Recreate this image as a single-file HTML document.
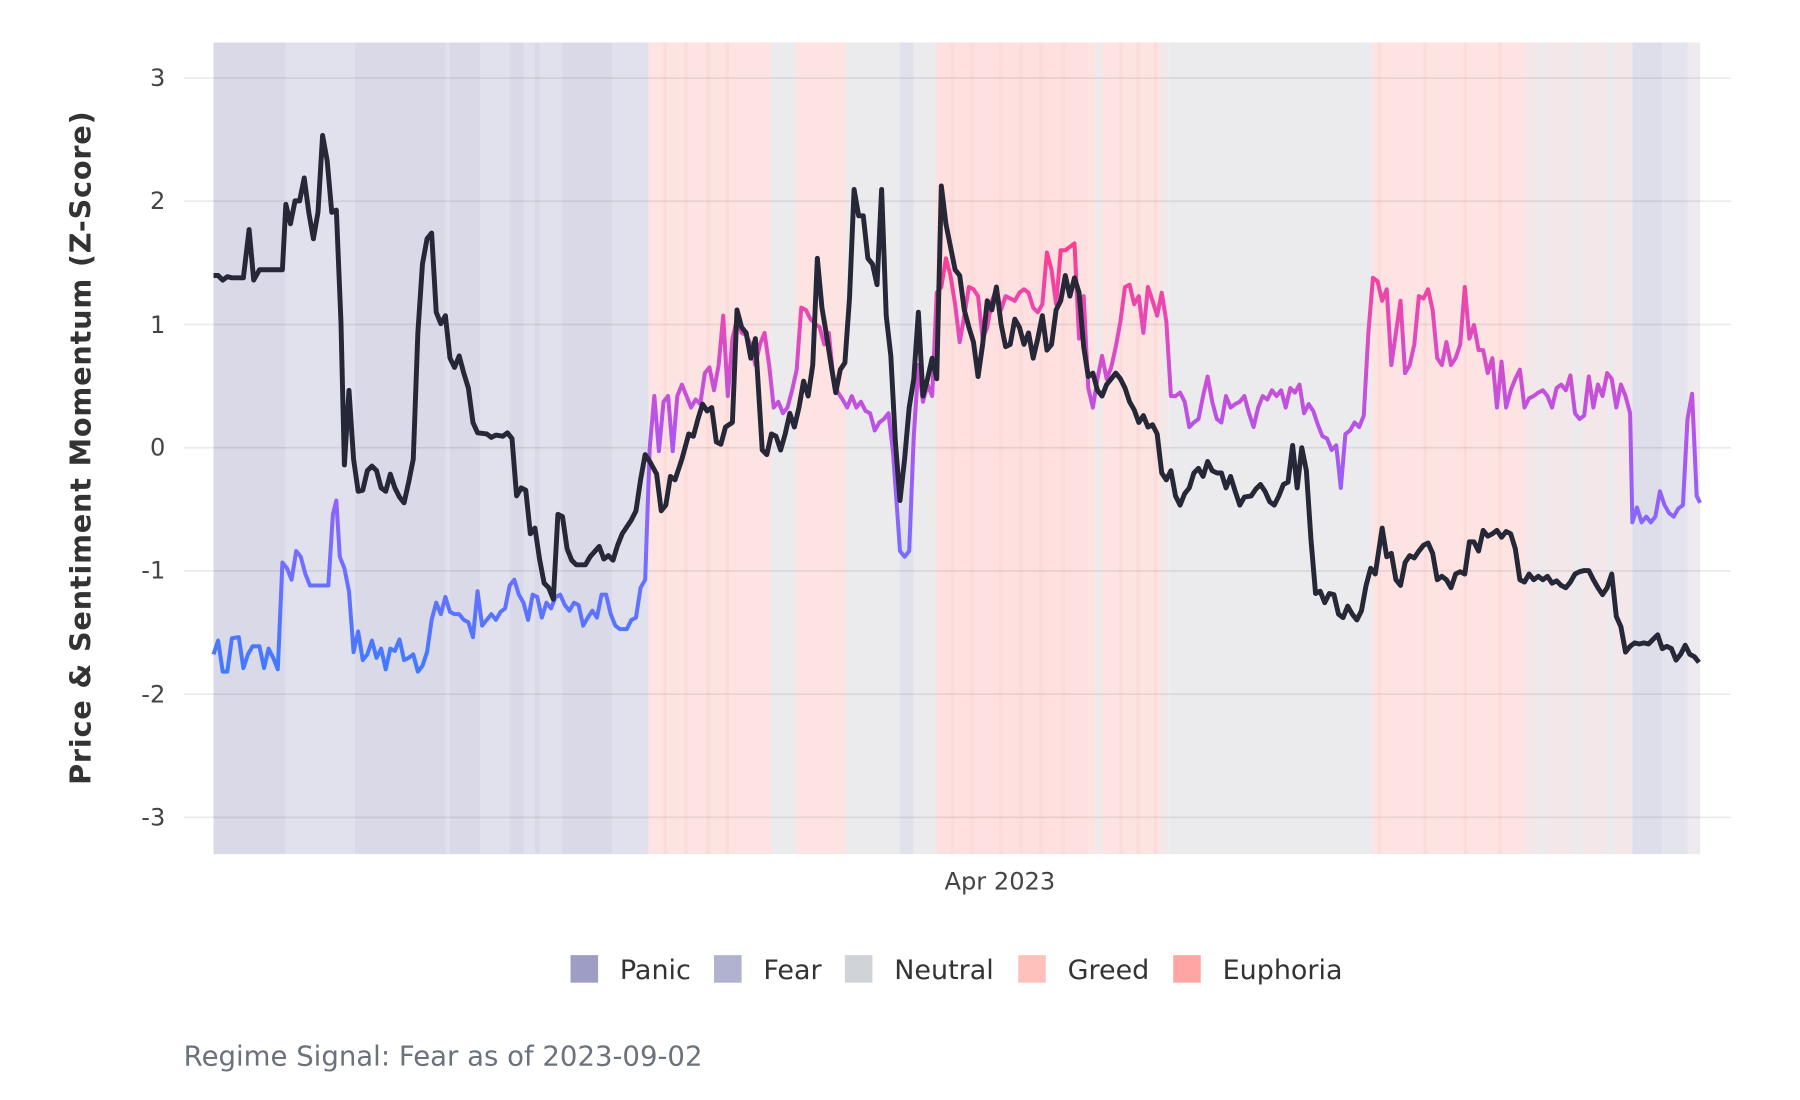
<!DOCTYPE html>
<html><head><meta charset="utf-8"><style>html,body{margin:0;padding:0;background:#fff}svg{display:block}</style></head>
<body>
<svg xmlns="http://www.w3.org/2000/svg" width="1800" height="1100" viewBox="0 0 1568 958.2" preserveAspectRatio="none" font-family="DejaVu Sans, Liberation Sans, sans-serif">
<defs>
<linearGradient id="sg" gradientUnits="userSpaceOnUse" x1="0" y1="590" x2="0" y2="210">
<stop offset="0" stop-color="#3d7bff"/>
<stop offset="0.3" stop-color="#7b6cff"/>
<stop offset="0.55" stop-color="#b055ee"/>
<stop offset="0.8" stop-color="#e34aba"/>
<stop offset="1" stop-color="#ff3d8a"/>
</linearGradient>
</defs>
<rect width="1568" height="958.2" fill="#fff"/>
<g>
<rect x="186" y="37" width="63" height="707" fill="#d9d9e8"/>
<rect x="249" y="37" width="60" height="707" fill="#e1e1ed"/>
<rect x="309" y="37" width="256" height="707" fill="#d9d9e8"/>
<rect x="388" y="37" width="4" height="707" fill="#e1e1ed"/>
<rect x="418" y="37" width="26" height="707" fill="#e1e1ed"/>
<rect x="456" y="37" width="10" height="707" fill="#e1e1ed"/>
<rect x="470" y="37" width="20" height="707" fill="#e1e1ed"/>
<rect x="533" y="37" width="32" height="707" fill="#e1e1ed"/>
<rect x="565" y="37" width="107" height="707" fill="#fde4e2"/>
<rect x="672" y="37" width="21" height="707" fill="#ebebee"/>
<rect x="693" y="37" width="44" height="707" fill="#fde4e2"/>
<rect x="737" y="37" width="47" height="707" fill="#ebebee"/>
<rect x="784" y="37" width="12" height="707" fill="#e1e1ed"/>
<rect x="796" y="37" width="19" height="707" fill="#ebebee"/>
<rect x="815" y="37" width="133" height="707" fill="#fde0df"/>
<rect x="948" y="37" width="70" height="707" fill="#fde4e2"/>
<rect x="1018" y="37" width="177" height="707" fill="#ebebee"/>
<rect x="1195" y="37" width="133" height="707" fill="#fde4e2"/>
<rect x="1328" y="37" width="94" height="707" fill="#f3e7ea"/>
<rect x="1422" y="37" width="26" height="707" fill="#dedeea"/>
<rect x="1448" y="37" width="22" height="707" fill="#e4e4ee"/>
<rect x="1470" y="37" width="11" height="707" fill="#eeeaef"/>
</g>
<g fill="#fbdcdb">
<rect x="578" y="37" width="3" height="707"/><rect x="596" y="37" width="3" height="707"/><rect x="615" y="37" width="4" height="707"/><rect x="632" y="37" width="3" height="707"/>
<rect x="828" y="37" width="3" height="707"/><rect x="845" y="37" width="4" height="707"/><rect x="870" y="37" width="3" height="707"/><rect x="888" y="37" width="3" height="707"/><rect x="905" y="37" width="4" height="707"/><rect x="925" y="37" width="3" height="707"/>
<rect x="975" y="37" width="3" height="707"/><rect x="990" y="37" width="3" height="707"/><rect x="1005" y="37" width="3" height="707"/>
<rect x="1200" y="37" width="3" height="707"/><rect x="1240" y="37" width="3" height="707"/><rect x="1275" y="37" width="3" height="707"/><rect x="1305" y="37" width="3" height="707"/>
</g>
<g fill="#ebebee">
<rect x="955" y="37" width="5" height="707"/><rect x="1012" y="37" width="4" height="707"/><rect x="1340" y="37" width="6" height="707"/><rect x="1370" y="37" width="8" height="707"/><rect x="1400" y="37" width="6" height="707"/>
</g>
<g stroke="#000" stroke-opacity="0.08" stroke-width="1.5">
<line x1="160" x2="1508" y1="68" y2="68"/><line x1="160" x2="1508" y1="175.3" y2="175.3"/><line x1="160" x2="1508" y1="282.7" y2="282.7"/><line x1="160" x2="1508" y1="390" y2="390"/><line x1="160" x2="1508" y1="497.3" y2="497.3"/><line x1="160" x2="1508" y1="604.7" y2="604.7"/><line x1="160" x2="1508" y1="712" y2="712"/>
</g>
<g font-size="21" fill="#444" text-anchor="end">
<text x="144" y="75">3</text><text x="144" y="182">2</text><text x="144" y="290">1</text><text x="144" y="397">0</text><text x="144" y="504">-1</text><text x="144" y="612">-2</text><text x="144" y="719">-3</text>
</g>
<text x="871" y="775" font-size="21" fill="#444" text-anchor="middle">Apr 2023</text>
<text transform="translate(79,390) rotate(-90)" font-size="25" font-weight="bold" fill="#333" text-anchor="middle" letter-spacing="0.7">Price &amp; Sentiment Momentum (Z-Score)</text>
<polyline fill="none" stroke="url(#sg)" stroke-width="3.5" stroke-linejoin="round" points="186,570 190,558 194,585 198,585 202,556 208,555 212,582 216,570 220,563 226,563 230,582 234,565 238,573 242,583 246,490 250,495 254,505 258,480 262,485 266,500 270,510 276,510 286,510 290,448 293,436 296,485 300,495 304,515 308,568 312,550 316,575 320,570 324,558 328,573 332,565 336,583 340,565 344,567 348,557 352,575 356,573 360,570 364,585 368,580 372,568 376,540 380,525 384,535 388,520 392,533 396,535 400,535 404,540 408,542 412,555 416,515 420,545 424,540 428,535 432,540 436,533 440,530 444,510 448,505 452,518 456,525 460,540 464,518 468,520 472,538 476,525 480,530 484,520 488,518 492,527 496,532 500,525 504,527 508,545 512,538 516,532 520,538 524,518 528,518 532,535 536,545 540,548 546,548 550,540 554,538 558,512 562,505 566,390 570,345 574,393 578,350 582,345 586,393 590,345 594,335 598,345 602,355 606,348 610,352 614,325 618,320 622,340 626,318 630,275 634,345 638,295 642,278 646,290 650,292 654,300 658,318 662,300 666,290 670,318 674,355 678,350 682,360 686,355 690,340 694,322 698,268 702,270 706,278 710,282 714,285 718,300 722,290 726,330 730,342 734,348 738,355 742,345 746,355 750,350 754,358 758,360 762,375 766,368 770,365 774,360 778,395 784,480 788,485 792,480 796,380 800,318 804,350 808,335 812,345 816,255 820,250 824,225 828,240 832,265 836,298 840,275 844,250 848,252 852,258 856,295 860,285 864,262 868,252 872,270 876,258 880,260 884,262 888,255 892,252 896,255 900,268 904,272 908,265 912,220 916,235 920,265 924,218 928,218 932,215 936,212 940,295 944,258 948,338 952,355 956,330 960,310 964,330 968,320 972,302 976,280 980,250 984,248 988,265 992,258 996,290 1000,250 1004,262 1008,275 1012,255 1016,280 1020,345 1024,345 1028,342 1032,350 1036,372 1040,368 1044,365 1048,345 1052,328 1056,350 1060,365 1064,368 1068,345 1072,355 1076,352 1080,350 1084,345 1088,360 1092,372 1096,355 1100,345 1104,348 1108,340 1112,345 1116,340 1120,355 1124,338 1128,342 1132,335 1136,360 1140,352 1144,358 1148,370 1152,380 1156,382 1160,392 1164,388 1168,425 1172,378 1176,375 1180,368 1184,372 1188,362 1192,290 1196,242 1200,245 1204,262 1208,252 1212,318 1216,290 1220,262 1224,325 1228,318 1232,300 1236,258 1240,260 1244,252 1248,270 1252,312 1256,318 1260,298 1264,318 1268,312 1272,300 1276,250 1280,295 1284,283 1288,305 1292,305 1296,325 1300,312 1304,355 1308,315 1312,355 1316,340 1320,330 1324,322 1328,355 1332,347 1336,345 1340,342 1344,340 1348,345 1352,355 1356,338 1360,335 1364,340 1368,327 1372,360 1376,365 1380,362 1384,328 1388,355 1392,335 1396,345 1400,325 1404,330 1408,355 1412,335 1416,345 1420,360 1422,455 1426,442 1430,455 1434,450 1438,455 1442,450 1446,428 1450,440 1454,447 1458,450 1462,443 1466,440 1470,365 1474,343 1478,432 1481,438"/>
<polyline fill="none" stroke="#262838" stroke-width="4.3" stroke-linejoin="round" points="186,240 190,240 194,244 198,241 202,242 212,242 217,200 221,244 226,235 246,235 249,178 253,195 257,175 261,175 265,155 269,185 273,208 277,185 281,118 285,140 289,185 293,183 297,280 300,405 304,340 308,400 312,428 316,427 320,410 324,406 328,410 332,425 336,428 340,413 344,425 348,433 352,438 356,420 360,400 364,290 368,230 372,208 376,203 380,272 384,282 388,275 392,312 396,320 400,310 404,325 408,338 412,368 416,377 424,378 428,381 432,379 438,380 442,377 446,382 450,432 454,425 458,427 462,465 466,460 470,487 474,508 478,512 482,522 486,448 490,450 494,478 498,488 502,492 510,492 514,485 522,476 526,487 530,484 534,488 538,475 542,465 550,453 554,445 558,418 562,396 566,402 572,413 576,445 580,440 584,415 588,418 594,400 600,378 604,380 608,365 612,352 616,358 620,355 624,385 628,387 632,372 638,368 642,270 646,285 650,290 654,312 658,295 664,392 668,396 672,378 676,380 680,392 684,378 688,360 692,372 696,355 700,332 704,345 708,318 712,225 716,268 720,292 724,318 728,342 732,322 736,316 740,260 744,165 748,188 752,188 756,225 760,230 764,248 768,165 772,275 776,310 780,385 784,436 788,400 792,355 796,330 800,272 804,345 808,330 812,312 816,330 820,162 824,195 828,215 832,235 836,240 840,270 844,285 848,298 852,328 856,300 860,262 864,270 868,250 872,282 876,302 880,300 884,278 888,285 892,300 896,290 900,312 904,295 908,275 912,305 916,300 920,270 924,262 928,240 932,258 936,242 940,255 944,302 948,328 952,325 956,340 960,345 964,335 968,330 972,325 976,330 980,338 984,350 988,357 992,368 996,362 1000,372 1004,370 1008,378 1012,412 1016,418 1020,410 1024,432 1028,440 1032,430 1036,425 1040,412 1044,408 1048,415 1052,402 1056,410 1060,412 1064,412 1068,425 1072,415 1076,428 1080,440 1084,433 1090,432 1094,426 1098,422 1102,428 1106,437 1110,440 1114,432 1118,422 1122,420 1126,388 1130,425 1134,390 1138,410 1142,470 1146,517 1150,515 1154,525 1158,517 1162,518 1166,535 1170,538 1174,528 1178,535 1182,540 1186,532 1190,510 1194,495 1198,500 1204,460 1208,485 1212,482 1216,505 1220,510 1224,490 1228,484 1232,486 1236,480 1240,475 1244,473 1248,482 1252,505 1256,502 1260,505 1264,512 1268,500 1272,498 1276,500 1280,472 1284,472 1288,480 1292,462 1296,467 1300,465 1304,462 1308,468 1312,463 1316,465 1320,478 1324,505 1328,507 1332,500 1336,505 1340,502 1344,505 1348,502 1352,508 1356,506 1360,510 1364,512 1368,507 1372,500 1376,498 1380,497 1384,497 1388,505 1392,512 1396,518 1400,512 1404,500 1408,537 1412,546 1416,568 1420,563 1424,560 1428,561 1432,560 1436,561 1440,557 1444,553 1448,565 1452,563 1456,565 1460,575 1464,570 1468,562 1472,570 1476,572 1480,577"/>
<g font-size="23.5" fill="#333">
<rect x="497" y="832" width="24" height="24" fill="#9e9ec5"/><text x="540" y="853">Panic</text>
<rect x="622" y="832" width="24" height="24" fill="#b1b1d0"/><text x="665" y="853">Fear</text>
<rect x="736" y="832" width="24" height="24" fill="#d0d4d8"/><text x="779" y="853">Neutral</text>
<rect x="887" y="832" width="24" height="24" fill="#ffc1b9"/><text x="930" y="853">Greed</text>
<rect x="1022" y="832" width="24" height="24" fill="#ffa6a4"/><text x="1065" y="853">Euphoria</text>
</g>
<text x="160" y="928" font-size="24" fill="#6b727c">Regime Signal: Fear as of 2023-09-02</text>
</svg>
</body></html>
